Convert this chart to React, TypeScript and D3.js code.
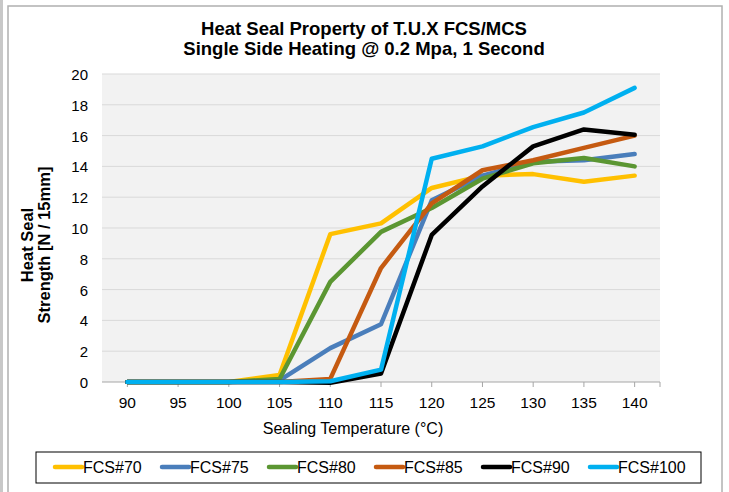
import React from "react";
import * as d3 from "d3";

const categories = [90, 95, 100, 105, 110, 115, 120, 125, 130, 135, 140];
const seriesNames = ["FCS#70", "FCS#75", "FCS#80", "FCS#85", "FCS#90", "FCS#100"];
const fcs70 = [0, 0, 0, 0.45, 9.6, 10.3, 12.6, 13.4, 13.5, 13.0, 13.4];
const fcs75 = [0, 0, 0, 0.1, 2.2, 3.75, 11.8, 13.4, 14.3, 14.4, 14.8];
const fcs80 = [0, 0, 0, 0.2, 6.5, 9.75, 11.3, 13.2, 14.2, 14.55, 14.0];
const fcs85 = [0, 0, 0, 0, 0.2, 7.4, 11.6, 13.75, 14.4, 15.2, 16.0];
const fcs90 = [0, 0, 0, 0, -0.05, 0.55, 9.55, 12.7, 15.3, 16.4, 16.05];
const fcs100 = [0, 0, 0, 0, 0.05, 0.8, 14.5, 15.3, 16.55, 17.5, 19.1];
const yTicks = [0, 2, 4, 6, 8, 10, 12, 14, 16, 18, 20];
const colors = ["#FFC000", "#4A7EBB", "#5B9632", "#C55A11", "#000000", "#00B0F0"];

const seriesValues = [fcs70, fcs75, fcs80, fcs85, fcs90, fcs100];

export default function App() {
  const W = 729, H = 492;
  const left = 102, right = 660, top = 74, bottom = 382;
  const x = d3.scaleBand<number>().domain(categories).range([left, right]).paddingInner(0).paddingOuter(0);
  const cx = (c: number) => (x(c) as number) + x.bandwidth() / 2;
  const y = d3.scaleLinear().domain([0, 20]).range([bottom, top]);
  const line = d3.line<number>().x((_, i) => cx(categories[i])).y((v) => y(v));
  const font = "Liberation Sans, Arial, sans-serif";
  const legendStart = 55, legendStep = 107;

  return (
    <svg width={W} height={H} style={{ position: "absolute", left: 0, top: 0 }} fontFamily={font}>
      <rect x={0} y={0} width={W} height={H} fill="#fff" />
      <line x1={1.5} y1={0} x2={1.5} y2={H} stroke="#c8c8c8" strokeWidth={3} />
      <rect x={8} y={6} width={714} height={H} fill="#fff" stroke="#b0b0b0" strokeWidth={1.5} />
      <text x={364} y={34.5} textAnchor="middle" fontSize={18.5} fontWeight="bold">Heat Seal Property of T.U.X FCS/MCS</text>
      <text x={364} y={54.5} textAnchor="middle" fontSize={18.5} fontWeight="bold">Single Side Heating @ 0.2 Mpa, 1 Second</text>
      <rect x={left} y={top} width={right - left} height={bottom - top} fill="#f2f2f2" />
      {yTicks.map((t) => (
        <g key={t}>
          {t > 0 && <line x1={left} x2={right} y1={y(t)} y2={y(t)} stroke="#d9d9d9" strokeWidth={1} />}
          <text x={88} y={y(t) + 6} textAnchor="end" fontSize={15}>{t}</text>
        </g>
      ))}
      <line x1={left} x2={right} y1={bottom} y2={bottom} stroke="#a6a6a6" strokeWidth={1} />
      {categories.map((c) => (
        <g key={c}>
          <line x1={cx(c)} x2={cx(c)} y1={bottom} y2={bottom + 5} stroke="#a6a6a6" />
          <text x={cx(c)} y={407.5} textAnchor="middle" fontSize={15.5}>{c}</text>
        </g>
      ))}
      <line x1={right} x2={right} y1={bottom} y2={bottom + 5} stroke="#a6a6a6" />
      <text x={353} y={433.5} textAnchor="middle" fontSize={16}>Sealing Temperature (°C)</text>
      <g transform="translate(0,245) rotate(-90)">
        <text x={0} y={33} textAnchor="middle" fontSize={16.5} fontWeight="bold">Heat Seal</text>
        <text x={0} y={50} textAnchor="middle" fontSize={16.5} fontWeight="bold">Strength [N / 15mm]</text>
      </g>
      {seriesValues.map((vals, i) => (
        <path key={i} d={line(vals) || ""} fill="none" stroke={colors[i]} strokeWidth={4.5} strokeLinejoin="round" strokeLinecap="round" />
      ))}
      <rect x={36} y={452} width={665} height={31} fill="#fff" stroke="#000" strokeWidth={1} />
      {seriesNames.map((n, i) => (
        <g key={n}>
          <line x1={legendStart + i * legendStep} x2={legendStart + i * legendStep + 27} y1={467} y2={467} stroke={colors[i]} strokeWidth={4.5} strokeLinecap="round" />
          <text x={legendStart + i * legendStep + 28} y={472.5} fontSize={16}>{n}</text>
        </g>
      ))}
    </svg>
  );
}
